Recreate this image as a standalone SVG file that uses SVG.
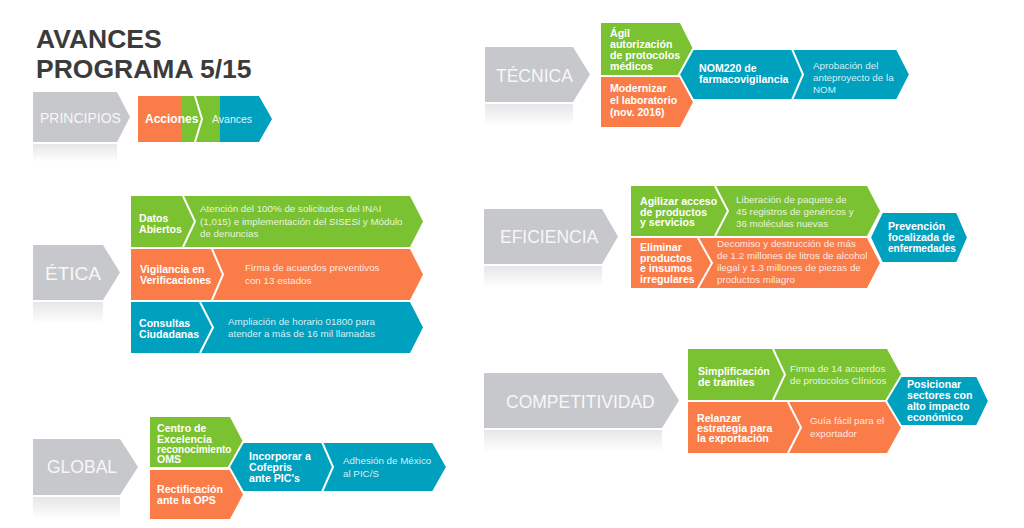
<svg xmlns="http://www.w3.org/2000/svg" width="1024" height="528" viewBox="0 0 1024 528">
<defs>
<linearGradient id="refl" x1="0" y1="0" x2="0" y2="1">
<stop offset="0" stop-color="#c7c8cc" stop-opacity="0.45"/>
<stop offset="1" stop-color="#c7c8cc" stop-opacity="0"/>
</linearGradient>
<style>
text{font-family:"Liberation Sans",Arial,Helvetica,sans-serif;}
.title{font-size:26.5px;font-weight:bold;fill:#3b3b3b;}
.gray{fill:#c7c8cc;}
.green{fill:#7ac231;}
.orange{fill:#fa7c48;}
.blue{fill:#00a0bf;}
.gap{stroke:#fff;stroke-width:2;stroke-linejoin:miter;}
.sep{fill:none;stroke:#fff;stroke-width:2;}
.lbl{font-size:17.5px;fill:#f7f7f7;}
.b{font-size:10.6px;font-weight:bold;fill:#fff;}
.d{font-size:9.8px;fill:#fff;fill-opacity:0.85;}
</style>
</defs>
<rect width="1024" height="528" fill="#fff"/>

<g id="title">
<text class="title" x="36" y="48">AVANCES</text>
<text class="title" x="36" y="78">PROGRAMA 5/15</text>
</g>

<g id="principios">
<polygon class="gray" points="33,92 117,92 130,117 117,142 33,142"/>
<rect x="33" y="144" width="84" height="18" fill="url(#refl)"/>
<text class="lbl" style="font-size:14px" x="40" y="123">PRINCIPIOS</text>
</g>
<g id="leyenda">
<rect class="orange" x="138" y="96" width="44" height="46"/>
<rect class="green" x="182" y="96" width="38" height="46"/>
<polygon class="blue" points="220,96 259,96 272,119 259,142 220,142"/>
<polyline class="sep" points="195,96 202,119 195,142"/>
<text class="b" style="font-size:12px" x="145" y="123">Acciones</text>
<text class="d" style="font-size:10.5px;fill-opacity:0.9" x="212" y="123">Avances</text>
</g>

<g id="etica">
<polygon class="gray" points="33,245 103,245 120,272.5 103,300 33,300"/>
<rect x="33" y="302" width="70" height="22" fill="url(#refl)"/>
<text class="lbl" style="font-size:19px" x="45" y="280">ÉTICA</text>
</g>
<g id="datos-abiertos">
<polygon class="green" points="131,196 410,196 423,221.5 410,247 131,247"/>
<text class="b" x="139" y="222">Datos</text>
<text class="b" x="139" y="233">Abiertos</text>
<text class="d" x="200" y="212">Atención del 100% de solicitudes del INAI</text>
<text class="d" x="200" y="224.5">(1,015) e implementación del SISESi y Módulo</text>
<text class="d" x="200" y="237">de denuncias</text>
</g>
<g id="vigilancia">
<polygon class="orange" points="131,249 410,249 423,274.5 410,300 131,300"/>
<text class="b" x="140" y="273">Vigilancia en</text>
<text class="b" x="140" y="284">Verificaciones</text>
<text class="d" x="245" y="271">Firma de acuerdos preventivos</text>
<text class="d" x="245" y="283.5">con 13 estados</text>
</g>
<g id="consultas">
<polygon class="blue" points="131,302 410,302 423,327.5 410,353 131,353"/>
<text class="b" x="139" y="327">Consultas</text>
<text class="b" x="139" y="338">Ciudadanas</text>
<text class="d" x="228" y="324.5">Ampliación de horario 01800 para</text>
<text class="d" x="228" y="337">atender a más de 16 mil llamadas</text>
</g>

<g id="global">
<polygon class="gray" points="33,439 120,439 138,467 120,495 33,495"/>
<rect x="33" y="497" width="87" height="22" fill="url(#refl)"/>
<text class="lbl" x="47" y="473">GLOBAL</text>
</g>
<g id="centro-excelencia">
<polygon class="green" points="150,417 230,417 243,442 230,467 150,467"/>
<text class="b" x="157" y="432">Centro de</text>
<text class="b" x="157" y="442.5">Excelencia</text>
<text class="b" x="157" y="452.5" style="font-size:10px">reconocimiento</text>
<text class="b" x="157" y="462.5">OMS</text>
</g>
<g id="rectificacion">
<polygon class="orange" points="150,470 230,470 243,494.5 230,519 150,519"/>
<text class="b" x="157" y="493">Rectificación</text>
<text class="b" x="157" y="504">ante la OPS</text>
</g>
<g id="incorporar">
<polygon class="blue gap" points="243,442 433,442 447,467 433,492 243,492 229,467"/>
<text class="b" x="249" y="460">Incorporar a</text>
<text class="b" x="249" y="471">Cofepris</text>
<text class="b" x="249" y="482">ante PIC's</text>
</g>
<g id="adhesion">
<text class="d" x="343" y="464">Adhesión de México</text>
<text class="d" x="343" y="476.5">al PIC/S</text>
</g>

<g id="tecnica">
<polygon class="gray" points="485,47 573,47 590,74.5 573,102 485,102"/>
<rect x="485" y="104" width="88" height="22" fill="url(#refl)"/>
<text class="lbl" x="496" y="82">TÉCNICA</text>
</g>
<g id="agil">
<polygon class="green" points="601,23 680,23 693,49 680,75 601,75"/>
<text class="b" x="610" y="37">Ágil</text>
<text class="b" x="610" y="48">autorización</text>
<text class="b" x="610" y="59">de protocolos</text>
<text class="b" x="610" y="69.5">médicos</text>
</g>
<g id="modernizar">
<polygon class="orange" points="601,77 680,77 693,102 680,127 601,127"/>
<text class="b" x="610" y="92">Modernizar</text>
<text class="b" x="610" y="104">el laboratorio</text>
<text class="b" x="610" y="116">(nov. 2016)</text>
</g>
<g id="nom220">
<polygon class="blue gap" points="693,49 897,49 910,74.5 897,100 693,100 679,74.5"/>
<text class="b" x="699" y="72">NOM220 de</text>
<text class="b" x="699" y="83">farmacovigilancia</text>
</g>
<g id="aprobacion">
<text class="d" x="813" y="69">Aprobación del</text>
<text class="d" x="813" y="81">anteproyecto de la</text>
<text class="d" x="813" y="93">NOM</text>
</g>

<g id="eficiencia">
<polygon class="gray" points="484,209 602,209 618,236.5 602,264 484,264"/>
<rect x="484" y="266" width="118" height="22" fill="url(#refl)"/>
<text class="lbl" x="500" y="243">EFICIENCIA</text>
</g>
<g id="agilizar">
<polygon class="green" points="631,186 867,186 880,211 867,236 631,236"/>
<text class="b" x="640" y="205">Agilizar acceso</text>
<text class="b" x="640" y="215.5">de productos</text>
<text class="b" x="640" y="226">y servicios</text>
<text class="d" x="736" y="203">Liberación de paquete de</text>
<text class="d" x="736" y="215">45 registros de genéricos y</text>
<text class="d" x="736" y="227">36 moléculas nuevas</text>
</g>
<g id="eliminar">
<polygon class="orange" points="631,238 867,238 880,263 867,288 631,288"/>
<text class="b" x="640" y="251">Eliminar</text>
<text class="b" x="640" y="261.5">productos</text>
<text class="b" x="640" y="272">e insumos</text>
<text class="b" x="640" y="282.5">irregulares</text>
<text class="d" x="717" y="247">Decomiso y destrucción de más</text>
<text class="d" x="717" y="259">de 1.2 millones de litros de alcohol</text>
<text class="d" x="717" y="271">ilegal y 1.3 millones de piezas de</text>
<text class="d" x="717" y="283">productos milagro</text>
</g>
<g id="prevencion">
<polygon class="blue gap" points="882,212 957,212 968,237.5 957,263 882,263 870,237.5"/>
<text class="b" x="888" y="230">Prevención</text>
<text class="b" x="888" y="241">focalizada de</text>
<text class="b" x="888" y="252" style="font-size:10px">enfermedades</text>
</g>

<g id="competitividad">
<polygon class="gray" points="484,373 662,373 679,400.5 662,428 484,428"/>
<rect x="484" y="430" width="178" height="22" fill="url(#refl)"/>
<text class="lbl" x="506" y="408">COMPETITIVIDAD</text>
</g>
<g id="simplificacion">
<polygon class="green" points="688,349 887,349 901,374.5 887,400 688,400"/>
<text class="b" x="698" y="375">Simplificación</text>
<text class="b" x="698" y="386">de trámites</text>
<text class="d" x="790" y="372">Firma de 14 acuerdos</text>
<text class="d" x="790" y="384">de protocolos Clínicos</text>
</g>
<g id="relanzar">
<polygon class="orange" points="688,402 887,402 901,427.5 887,453 688,453"/>
<text class="b" x="697" y="422">Relanzar</text>
<text class="b" x="697" y="432">estrategia para</text>
<text class="b" x="697" y="442">la exportación</text>
<text class="d" x="810" y="424">Guía fácil para el</text>
<text class="d" x="810" y="437">exportador</text>
</g>
<g id="posicionar">
<polygon class="blue gap" points="901,376 977,376 989,401 977,426 901,426 886,401"/>
<text class="b" x="907" y="388">Posicionar</text>
<text class="b" x="907" y="399">sectores con</text>
<text class="b" x="907" y="410">alto impacto</text>
<text class="b" x="907" y="421">económico</text>
</g>

<g id="connectors">
<polyline class="sep" points="183,196 195,221.5 183,247"/>
<polyline class="sep" points="212,249 223,274.5 212,300"/>
<polyline class="sep" points="200,302 213,327.5 200,353"/>
<polyline class="sep" points="322,442 333,467 322,492"/>
<polyline class="sep" points="792,49 803,74.5 792,100"/>
<polyline class="sep" points="715,186 728,211 715,236"/>
<polyline class="sep" points="698,238 712,263 698,288"/>
<polyline class="sep" points="773,349 785,374.5 773,400"/>
<polyline class="sep" points="788,402 801,427.5 788,453"/>
</g>
</svg>
